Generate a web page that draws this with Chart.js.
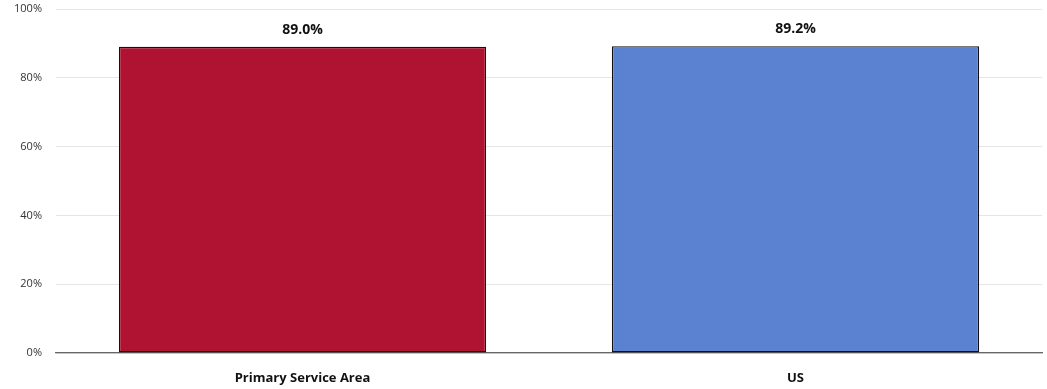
<!DOCTYPE html>
<html>
<head>
<meta charset="utf-8">
<script src="https://cdn.jsdelivr.net/npm/chart.js@4.4.1/dist/chart.umd.min.js"></script>
<style>
html,body{margin:0;padding:0;background:#fff;}
#wrap{width:1047px;height:389px;position:relative;}
</style>
</head>
<body>
<div id="wrap"><canvas id="c"></canvas></div>
<script>
const categories = ["Primary Service Area", "US"];
const values = [89.0, 89.2];
const barColors = ["#B01232", "#5A82D0"];
const yTicks = [0, 20, 40, 60, 80, 100];

const FONT = "'Open Sans', 'Noto Sans', sans-serif";

const valueLabels = {
  id: 'valueLabels',
  afterDatasetsDraw(chart) {
    const ctx = chart.ctx;
    const meta = chart.getDatasetMeta(0);
    ctx.save();
    ctx.font = "bold 14px " + FONT;
    ctx.fillStyle = "#111";
    ctx.textAlign = "center";
    ctx.textBaseline = "middle";
    meta.data.forEach((bar, i) => {
      ctx.fillText(values[i].toFixed(1) + "%", bar.x, bar.y - 17);
    });
    ctx.restore();
  }
};

new Chart(document.getElementById('c'), {
  type: 'bar',
  data: {
    labels: categories,
    datasets: [{
      data: values,
      backgroundColor: barColors,
      borderColor: "#111",
      borderWidth: 1.4,
      borderSkipped: false,
      categoryPercentage: 1,
      barPercentage: 0.745
    }]
  },
  options: {
    responsive: true,
    maintainAspectRatio: false,
    animation: false,
    layout: { padding: { top: 9, right: 5, left: 0, bottom: 0 } },
    plugins: { legend: { display: false }, tooltip: { enabled: false } },
    scales: {
      x: {
        grid: { display: false, drawTicks: false },
        border: { display: true, color: "#666", width: 1.2 },
        ticks: { color: "#111", font: { family: FONT, size: 13, weight: 'bold' }, padding: 17 },
        afterFit(s) { s.height = 36; s.paddingLeft = 0; s.paddingRight = 0; }
      },
      y: {
        min: 0, max: 100,
        afterBuildTicks(s) { s.ticks = yTicks.map(v => ({ value: v })); },
        grid: { color: "#e6e6e6", drawTicks: false, lineWidth: 1 },
        border: { display: false },
        ticks: {
          color: "#333", font: { family: FONT, size: 11 }, padding: 14,
          callback: v => v + "%"
        },
        afterFit(s) { s.width = 56; s.paddingTop = 0; s.paddingBottom = 0; }
      }
    }
  },
  plugins: [valueLabels]
});
</script>
</body>
</html>
